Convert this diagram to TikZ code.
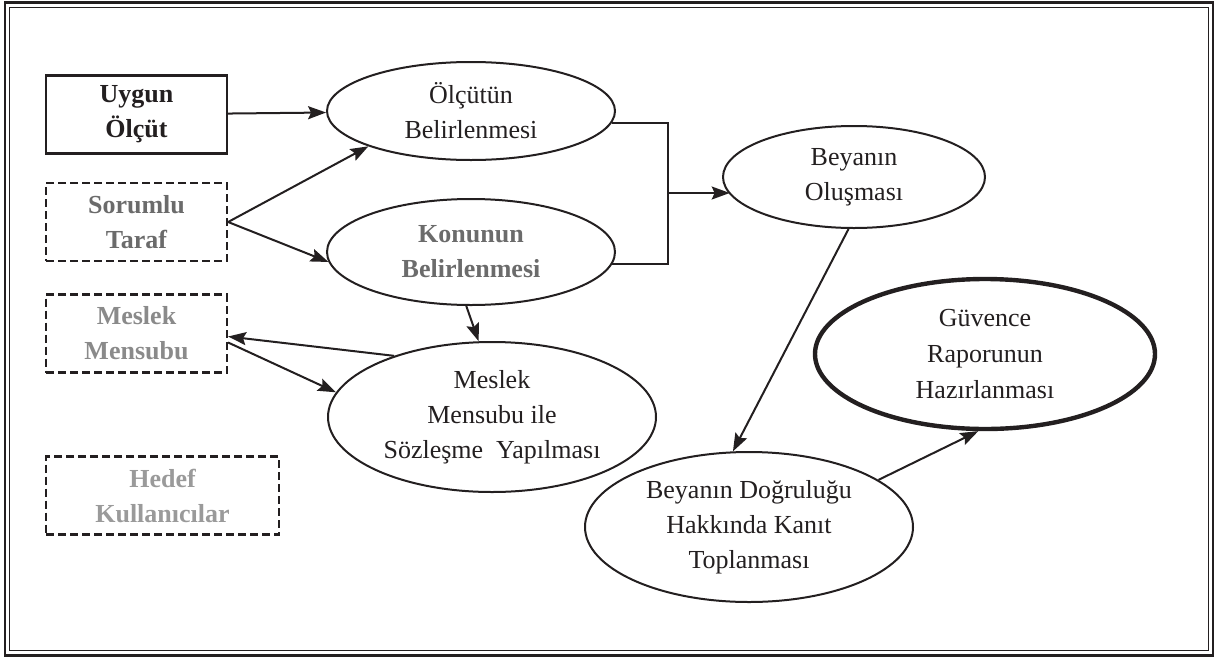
\documentclass[tikz,border=0pt]{standalone}
\usepackage{fontspec}
\setmainfont{Liberation Serif}
\usepackage{tikz}
\usetikzlibrary{arrows.meta, shapes.geometric, positioning}

\definecolor{ink}{HTML}{231F20}
\definecolor{grayone}{HTML}{6B6B6B}
\definecolor{graytwo}{HTML}{8A8A8A}
\definecolor{graythree}{HTML}{9A9A9A}

\begin{document}
\begin{tikzpicture}[x=0.5pt, y=-0.5pt,
    every node/.style={font=\fontsize{13pt}{17.5pt}\selectfont, text=ink, align=center},
    solidbox/.style={draw=ink, line width=1.1pt, minimum width=90.5pt, minimum height=39pt, inner sep=0pt,
        font=\fontsize{13pt}{17.5pt}\selectfont\bfseries},
    dashbox/.style={solidbox, dash pattern=on 4pt off 2pt},
    oval/.style={ellipse, draw=ink, line width=1pt, inner sep=0pt},
    arrowline/.style={draw=ink, line width=1pt, -{Stealth[length=9pt, width=6.5pt, inset=1.5pt]}}]

    \useasboundingbox (0,0) rectangle (1215,659);

    % double frame
    \draw[ink, line width=1.2pt] (5,2.5) rectangle (1213,655.5);
    \draw[ink, line width=0.5pt] (9.5,7) rectangle (1208.5,650.5);

    % boxes on the left
    \node[solidbox] (uygun) at (136.5,114.5) {Uygun\\Ölçüt};
    \node[dashbox, text=grayone] (sorumlu) at (136.5,222) {Sorumlu\\Taraf};
    \node[dashbox, text=graytwo] (meslek) at (136.5,333.5) {Meslek\\Mensubu};
    \node[dashbox, text=graythree, minimum width=116.5pt] (hedef) at (162.5,495.5) {Hedef\\Kullanıcılar};

    % steps
    \node[oval, minimum width=144pt, minimum height=49pt] (olcut) at (471,111) {Ölçütün\\Belirlenmesi};
    \node[oval, minimum width=144pt, minimum height=53pt, text=grayone,
        font=\fontsize{13pt}{17.5pt}\selectfont\bfseries] (konu) at (471,252) {Konunun\\Belirlenmesi};
    \node[oval, minimum width=131pt, minimum height=51pt] (beyan) at (854,177) {Beyanın\\Oluşması};
    \node[oval, minimum width=164pt, minimum height=75pt] (sozlesme) at (492,417) {Meslek\\Mensubu ile\\Sözleşme~ Yapılması};
    \node[oval, minimum width=164pt, minimum height=75pt] (kanit) at (749,527) {Beyanın Doğruluğu\\Hakkında Kanıt\\Toplanması};
    \node[oval, line width=2.2pt, minimum width=170pt, minimum height=75pt,
        font=\fontsize{13pt}{18pt}\selectfont] (rapor) at (985,354) {Güvence\\Raporunun\\Hazırlanması};

    % connectors
    \draw[arrowline] (uygun) -- (olcut);
    \draw[arrowline] (sorumlu.east) -- (olcut.199);
    \draw[arrowline] (sorumlu.east) -- (konu.184);
    \coordinate (join) at (668,193);
    \draw[ink, line width=1pt] (olcut.355) -| (join) |- (konu.355);
    \draw[arrowline] (join) -- (join -| beyan.188);
    \draw[arrowline] (beyan.264) -- (kanit.102);
    \draw[arrowline] (kanit.20) -- (rapor.265);
    \draw[arrowline] (konu.265) -- (sozlesme.100);
    \draw[arrowline] (sozlesme.148) -- ([yshift=-1.5pt]meslek.east);
    \draw[arrowline] ([yshift=-4.5pt]meslek.east) -- (sozlesme.171);
\end{tikzpicture}
\end{document}
